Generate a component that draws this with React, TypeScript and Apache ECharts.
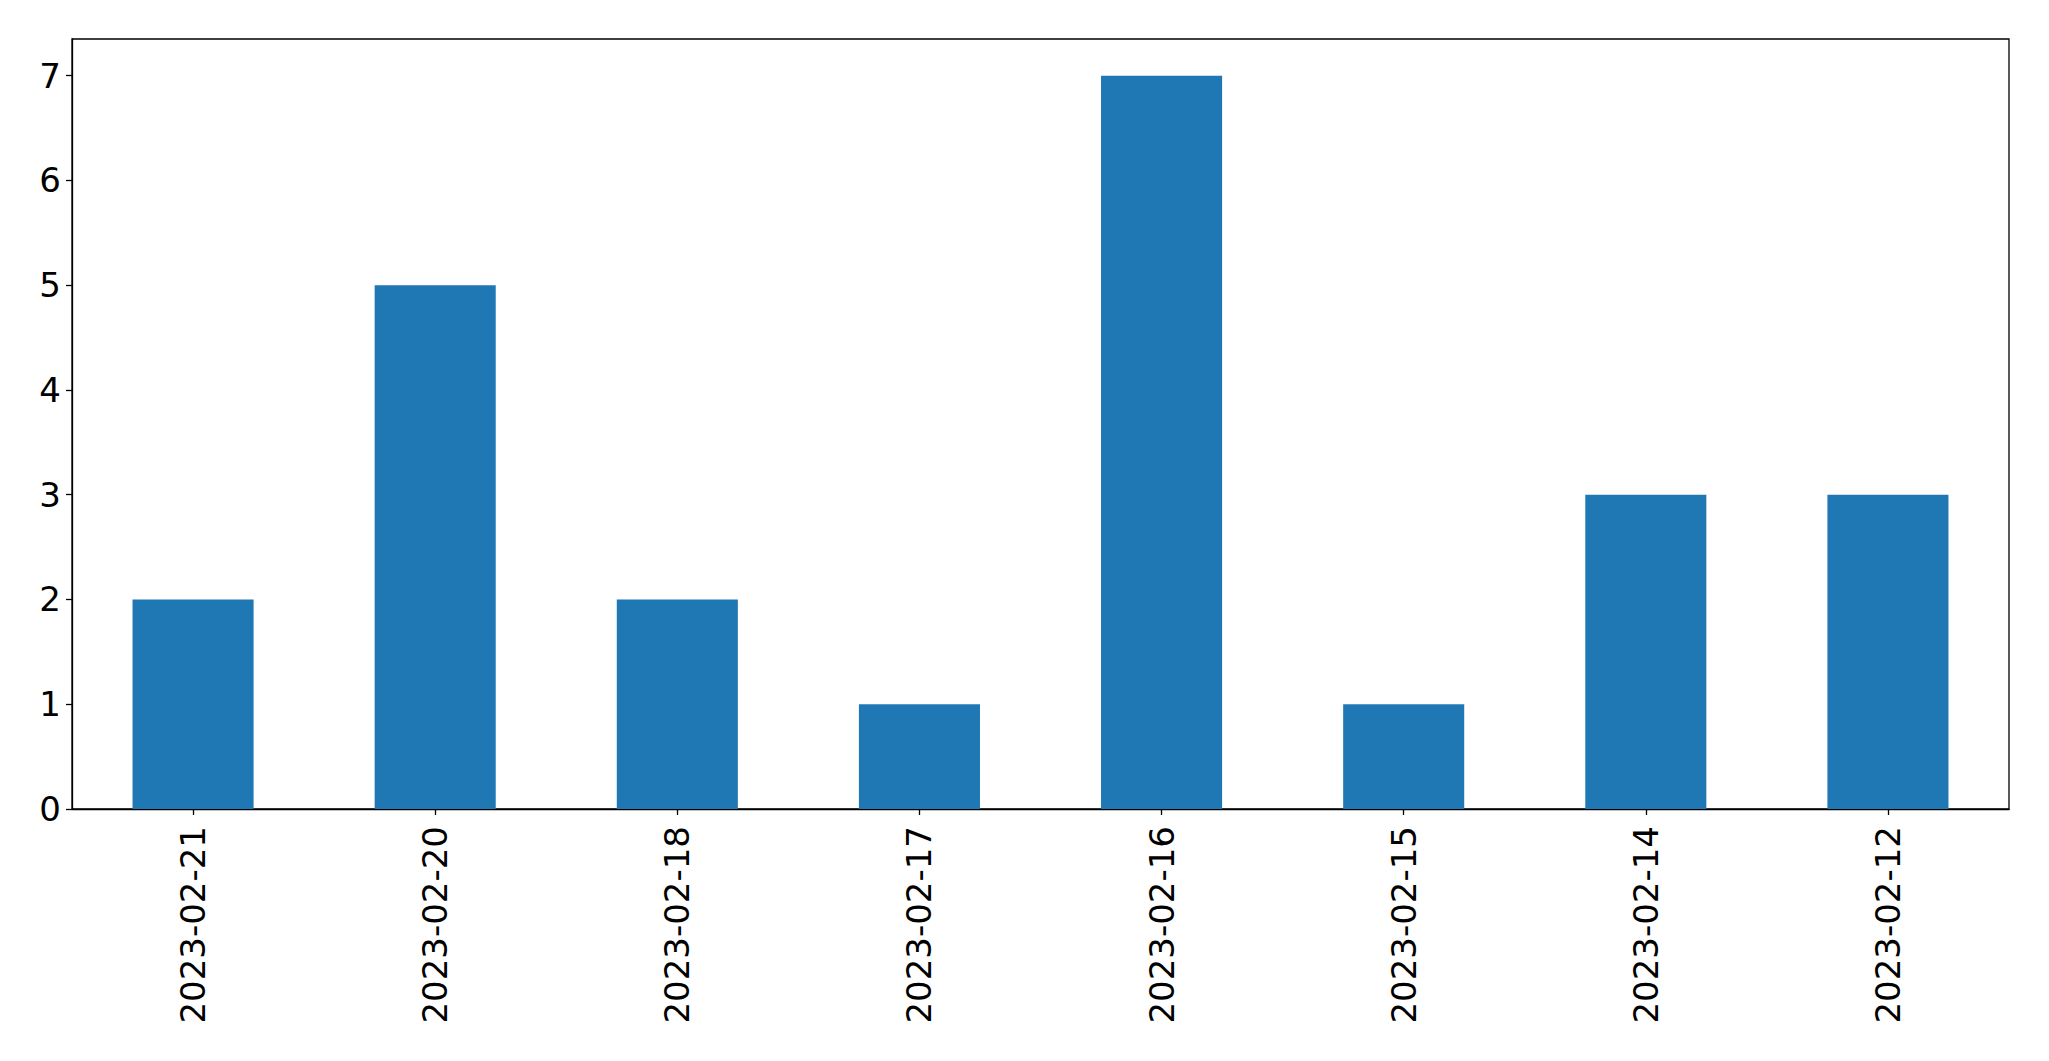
import React, { useEffect, useRef } from "react";
import * as echarts from "echarts";

const categories = [
  "2023-02-21",
  "2023-02-20",
  "2023-02-18",
  "2023-02-17",
  "2023-02-16",
  "2023-02-15",
  "2023-02-14",
  "2023-02-12",
];
const counts = [2, 5, 2, 1, 7, 1, 3, 3];
const yTicks = [0, 1, 2, 3, 4, 5, 6, 7];

export default function App() {
  const ref = useRef<HTMLDivElement>(null);
  useEffect(() => {
    if (!ref.current) return;
    const chart = echarts.init(ref.current, null, { renderer: "svg" });
    const font = "DejaVu Sans";
    chart.setOption({
      animation: false,
      backgroundColor: "#ffffff",
      grid: {
        left: 72,
        right: 40,
        top: 39,
        bottom: 252,
        show: true,
        borderColor: "#000000",
        borderWidth: 1.3,
        backgroundColor: "transparent",
      },
      xAxis: {
        type: "category",
        data: categories,
        axisLine: { show: true, lineStyle: { color: "#000000", width: 1.3 } },
        axisTick: {
          show: true,
          alignWithLabel: true,
          length: 6,
          lineStyle: { color: "#000000", width: 1.3 },
        },
        axisLabel: {
          rotate: 90,
          margin: 17,
          color: "#000000",
          fontFamily: font,
          fontSize: 34,
        },
        splitLine: { show: false },
      },
      yAxis: {
        type: "value",
        min: 0,
        max: 7.35,
        interval: 1,
        axisLine: { show: true, lineStyle: { color: "#000000", width: 1.3 } },
        axisTick: {
          show: true,
          length: 6,
          customValues: yTicks,
          lineStyle: { color: "#000000", width: 1.3 },
        },
        axisLabel: {
          margin: 11,
          color: "#000000",
          fontFamily: font,
          fontSize: 34,
          customValues: yTicks,
        },
        splitLine: { show: false },
      },
      series: [
        {
          type: "bar",
          data: counts,
          barWidth: "50%",
          itemStyle: { color: "#1f77b4" },
        },
      ],
    });
    return () => chart.dispose();
  }, []);
  return (
    <div
      ref={ref}
      style={{ position: "fixed", left: 0, top: 0, width: 2049, height: 1061 }}
    />
  );
}
